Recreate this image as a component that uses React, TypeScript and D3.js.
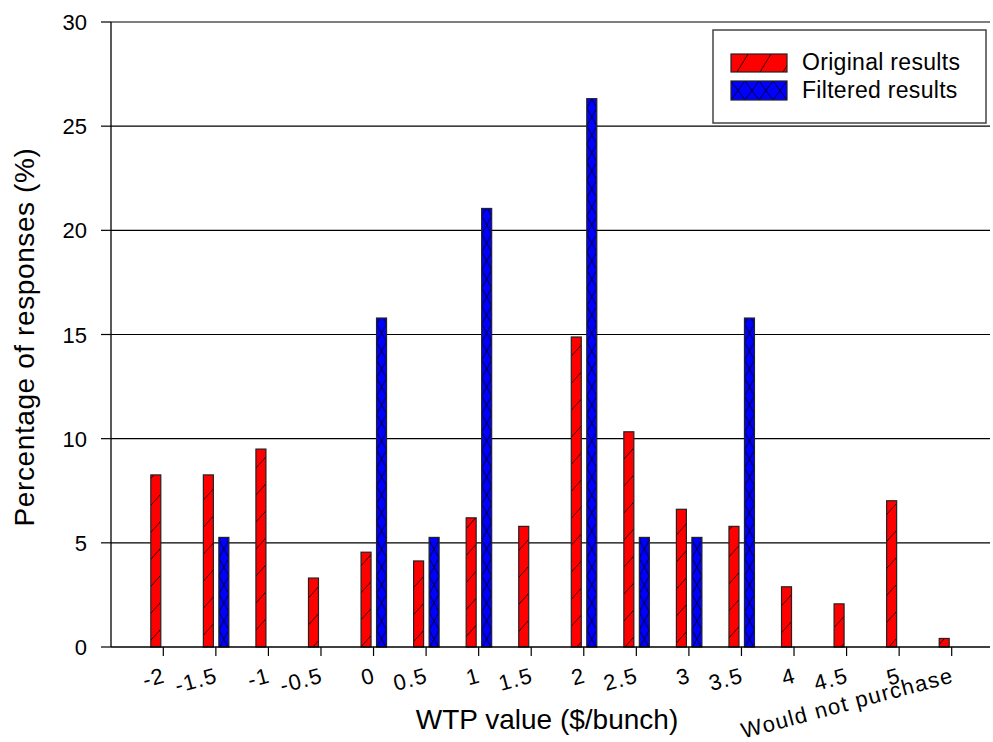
import React from "react";
import * as d3 from "d3";

const categories = ["-2", "-1.5", "-1", "-0.5", "0", "0.5", "1", "1.5", "2", "2.5", "3", "3.5", "4", "4.5", "5", "Would not purchase"];
const originalResults = [8.26, 8.26, 9.5, 3.31, 4.55, 4.13, 6.2, 5.79, 14.88, 10.33, 6.61, 5.79, 2.89, 2.07, 7.02, 0.41];
const filteredResults = [0, 5.26, 0, 0, 15.79, 5.26, 21.05, 0, 26.32, 5.26, 5.26, 15.79, 0, 0, 0, 0];
const yTicks = [0, 5, 10, 15, 20, 25, 30];
const seriesNames = ["Original results", "Filtered results"];

const W = 993, H = 742;
const left = 111, right = 990, top = 22, bottom = 647;

export default function App() {
  const x = d3.scaleLinear().domain([0, categories.length - 1]).range([163.3, 951.7]);
  const y = d3.scaleLinear().domain([0, 30]).range([bottom, top]);
  const bw = 10;
  const font = "'Liberation Sans', Arial, sans-serif";

  return (
    <svg width={W} height={H} style={{ position: "absolute", left: 0, top: 0, background: "#fff" }} fontFamily={font}>
      <defs>
        <pattern id="hatchRed" patternUnits="userSpaceOnUse" width={24} height={27}>
          <rect width={24} height={27} fill="#ff0000" />
          <line x1={0} y1={27} x2={24} y2={0} stroke="#000" strokeWidth={0.8} />
        </pattern>
        {filteredResults.map((v, i) => (
          <pattern key={i} id={`hatchBlue${i}`} patternUnits="userSpaceOnUse" x={x(i) + 3} y={0} width={bw} height={18}>
            <rect width={bw} height={18} fill="#0000ff" />
            <line x1={0} y1={0} x2={bw} y2={18} stroke="#000" strokeWidth={0.8} />
            <line x1={bw} y1={0} x2={0} y2={18} stroke="#000" strokeWidth={0.8} />
          </pattern>
        ))}
        <pattern id="legendBlue" patternUnits="userSpaceOnUse" x={731} y={81} width={14} height={19}>
          <rect width={14} height={19} fill="#0000ff" />
          <line x1={0} y1={0} x2={14} y2={19} stroke="#000" strokeWidth={0.8} />
          <line x1={14} y1={0} x2={0} y2={19} stroke="#000" strokeWidth={0.8} />
        </pattern>
        <pattern id="legendRed" patternUnits="userSpaceOnUse" x={731} y={54} width={23} height={18}>
          <rect width={23} height={18} fill="#ff0000" />
          <line x1={6} y1={18} x2={17} y2={0} stroke="#000" strokeWidth={0.8} />
        </pattern>
      </defs>

      {/* gridlines */}
      {yTicks.filter(t => t > 0).map(t => (
        <line key={t} x1={left} x2={right} y1={y(t)} y2={y(t)} stroke="#000" strokeWidth={1.2} />
      ))}

      {/* bars */}
      {originalResults.map((v, i) => (
        v > 0 ? <rect key={"o" + i} x={x(i) - 12.5} y={y(v)} width={bw} height={y(0) - y(v)} fill="url(#hatchRed)" stroke="#222" strokeWidth={1.2} /> : null
      ))}
      {filteredResults.map((v, i) => (
        v > 0 ? <rect key={"f" + i} x={x(i) + 3} y={y(v)} width={bw} height={y(0) - y(v)} fill={`url(#hatchBlue${i})`} stroke="#222" strokeWidth={1.2} /> : null
      ))}

      {/* axes */}
      <line x1={left} x2={left} y1={top} y2={bottom} stroke="#000" strokeWidth={1.3} />
      <line x1={left} x2={right} y1={bottom} y2={bottom} stroke="#000" strokeWidth={1.3} />
      {yTicks.map(t => (
        <g key={t}>
          <line x1={left - 10} x2={left} y1={y(t)} y2={y(t)} stroke="#000" strokeWidth={1.2} />
          <text x={87} y={y(t) + 8} textAnchor="end" fontSize={22}>{t}</text>
        </g>
      ))}
      {categories.map((c, i) => (
        <g key={c}>
          <line x1={x(i)} x2={x(i)} y1={bottom} y2={bottom + 9} stroke="#000" strokeWidth={1.2} />
          <text
            transform={`translate(${x(i) + 3},${bottom + 35}) rotate(-15)`}
            textAnchor="end"
            fontSize={22}
            letterSpacing={1.3}
          >{c}</text>
        </g>
      ))}

      {/* axis titles */}
      <text x={547} y={729} textAnchor="middle" fontSize={28}>WTP value ($/bunch)</text>
      <text transform={`translate(34,337) rotate(-90)`} textAnchor="middle" fontSize={28} letterSpacing={0.6}>Percentage of responses (%)</text>

      {/* legend */}
      <rect x={713} y={30} width={273} height={93} fill="#fff" stroke="#444" strokeWidth={1.5} />
      <rect x={731} y={54} width={56} height={18} fill="url(#legendRed)" stroke="#222" strokeWidth={1.2} />
      <rect x={731} y={81} width={56} height={19} fill="url(#legendBlue)" stroke="#222" strokeWidth={1.2} />
      <text x={802} y={70} fontSize={23} letterSpacing={0.3}>{seriesNames[0]}</text>
      <text x={802} y={98} fontSize={23} letterSpacing={0.3}>{seriesNames[1]}</text>
    </svg>
  );
}
